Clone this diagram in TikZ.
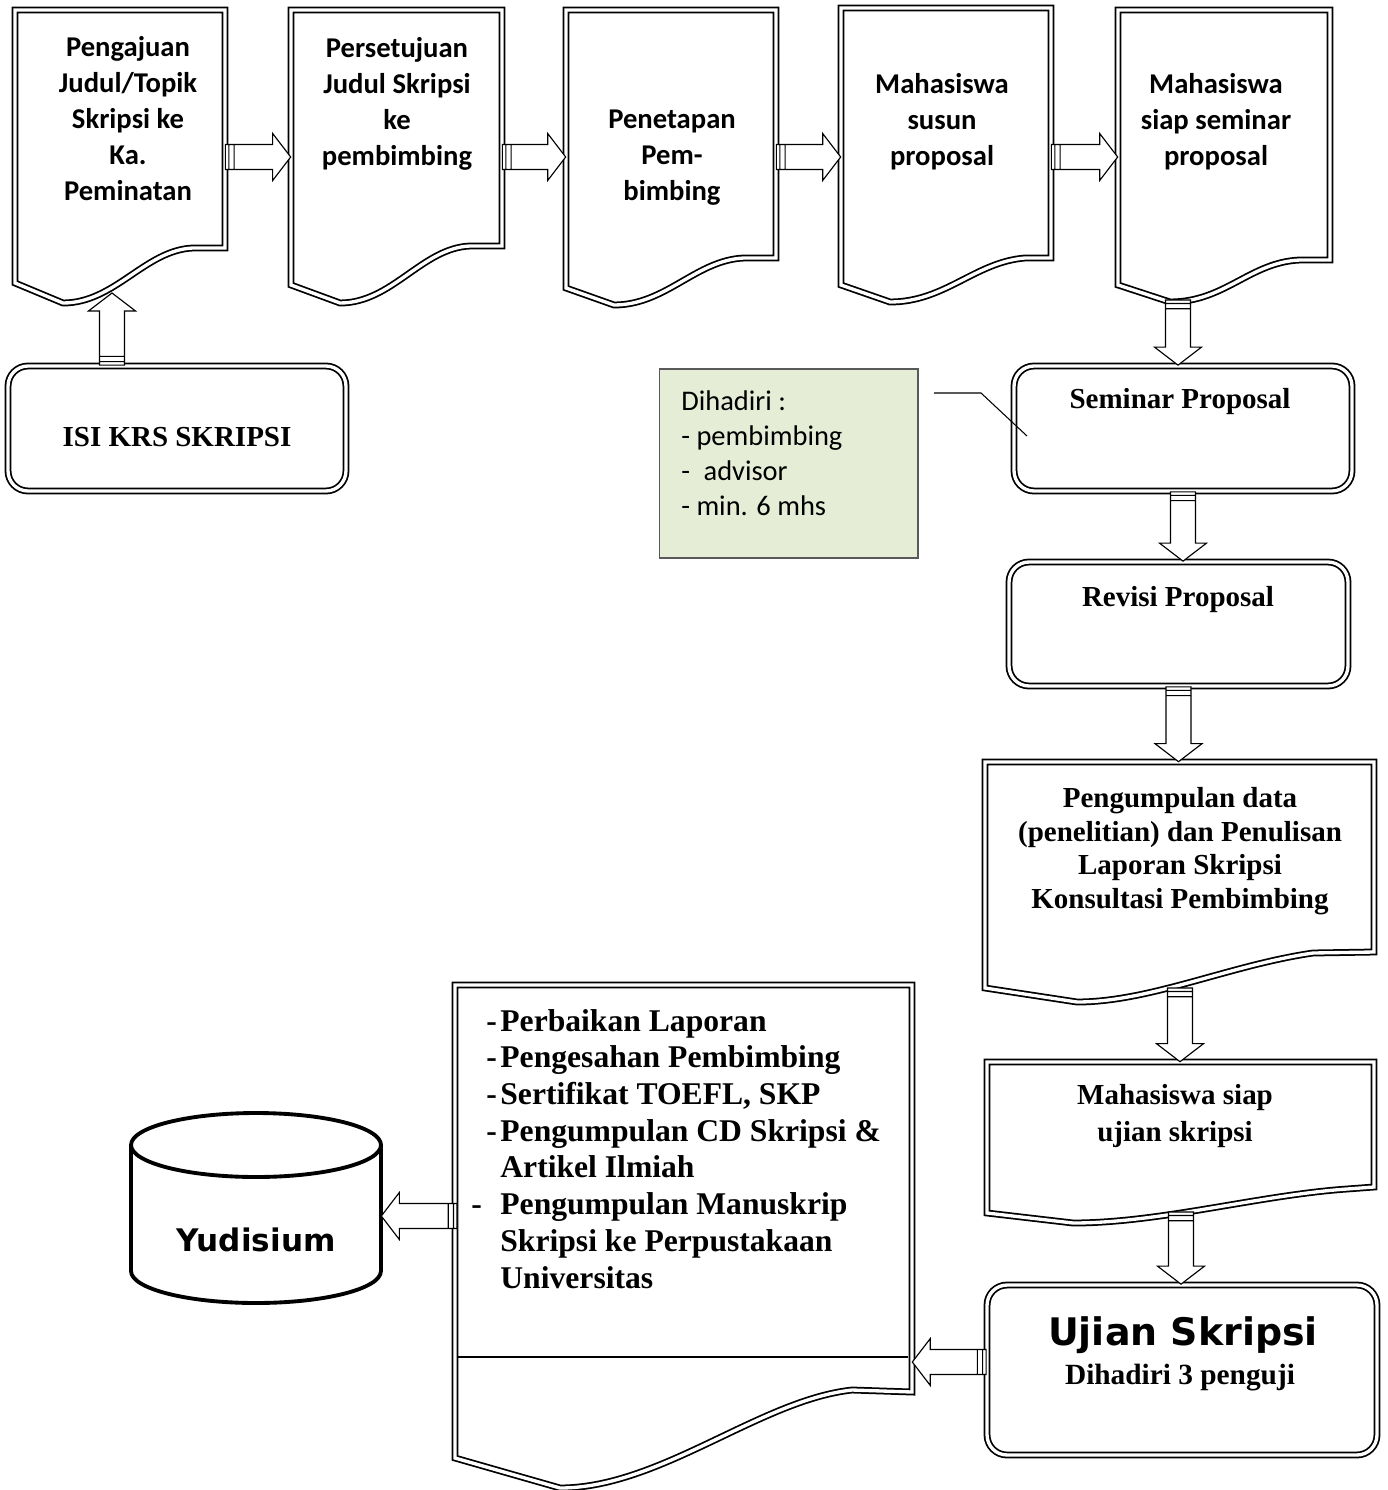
\documentclass[tikz,border=0pt]{standalone}
\usepackage{fontspec}
\newfontfamily\calib{Carlito}
\newfontfamily\tnr{Liberation Serif}
\newfontfamily\verd{DejaVu Sans}
\usetikzlibrary{calc}
\definecolor{greenbox}{HTML}{E6EDD7}

\tikzset{
  dbl/.style={draw, line width=1pt, double=white, double distance=1.9pt, line join=miter},
  rbox/.style={dbl, rounded corners=0.4cm, inner sep=0pt},
  frame/.style={inner sep=0pt},
  doctext/.style={font=\calib\bfseries\fontsize{16.3}{20.5}\selectfont, align=center, inner sep=0pt},
  tnrtext/.style={font=\tnr\bfseries\fontsize{16.5}{19.2}\selectfont, align=center, inner sep=0pt},
  blk/.style={draw, fill=white, line width=0.65pt, line join=miter,
    to path={
      ($(\tikztostart)!0.25cm!90:(\tikztotarget)$)
      -- ($(\tikztotarget)!0.36cm!(\tikztostart)!0.25cm!-90:(\tikztostart)$)
      -- ($(\tikztotarget)!0.36cm!(\tikztostart)!0.47cm!-90:(\tikztostart)$)
      -- (\tikztotarget)
      -- ($(\tikztotarget)!0.36cm!(\tikztostart)!0.47cm!90:(\tikztostart)$)
      -- ($(\tikztotarget)!0.36cm!(\tikztostart)!0.25cm!90:(\tikztostart)$)
      -- ($(\tikztostart)!0.25cm!-90:(\tikztotarget)$) -- cycle
      ($(\tikztostart)!2pt!(\tikztotarget)!0.25cm!90:(\tikztotarget)$)
      -- ($(\tikztostart)!2pt!(\tikztotarget)!0.25cm!-90:(\tikztotarget)$)
      ($(\tikztostart)!5pt!(\tikztotarget)!0.25cm!90:(\tikztotarget)$)
      -- ($(\tikztostart)!5pt!(\tikztotarget)!0.25cm!-90:(\tikztotarget)$)
    }},
  cyl/.style={draw, line width=2.2pt}
}

\begin{document}
\begin{tikzpicture}[x=0.02cm, y=0.02cm]
\useasboundingbox (0,0) rectangle (1387,-1490);

% documents, top row
\draw[dbl] (15,-10) -- (225,-10) -- (225,-248) -- (193,-248) .. controls (145,-250) and (115,-303) .. (63,-303) -- (15,-283) -- cycle;
\draw[dbl] (291,-10) -- (502,-10) -- (502,-246) -- (470,-246) .. controls (422,-248) and (392,-303) .. (340,-303) -- (291,-285) -- cycle;
\draw[dbl] (566,-10) -- (776,-10) -- (776,-258) -- (744,-258) .. controls (696,-260) and (666,-305) .. (614,-305) -- (566,-288) -- cycle;
\draw[dbl] (841,-8) -- (1051,-8) -- (1051,-258) -- (1025,-258) .. controls (975,-262) and (945,-302) .. (890,-302) -- (841,-285) -- cycle;
\draw[dbl] (1118,-10) -- (1330,-10) -- (1330,-260) -- (1300,-260) .. controls (1250,-262) and (1225,-302) .. (1170,-302) -- (1118,-285) -- cycle;

\node[frame, minimum width=4.2cm, minimum height=5.88cm] (d1) at (120,-157) {};
\node[frame, minimum width=4.22cm, minimum height=5.88cm] (d2) at (396.5,-157) {};
\node[frame, minimum width=4.2cm, minimum height=5.88cm] (d3) at (671,-157) {};
\node[frame, minimum width=4.2cm, minimum height=5.88cm] (d4) at (946,-157) {};
\node[frame, minimum width=4.24cm, minimum height=5.88cm] (d5) at (1224,-157) {};

\node[doctext] (t1) at (128,-119) {Pengajuan\\Judul/Topik\\Skripsi ke\\Ka.\\Peminatan};
\node[doctext] (t2) at (397,-104) {Persetujuan\\Judul Skripsi\\ke\\pembimbing};
\node[doctext] (t3) at (672,-158) {Penetapan\\Pem-\\bimbing};
\node[doctext] (t4) at (942,-122) {Mahasiswa\\susun\\proposal};
\node[doctext] (t5) at (1216,-122) {Mahasiswa\\siap seminar\\proposal};

\coordinate (d1b) at (112,-293);
\coordinate (d5b) at (1178,-300);

% rounded boxes
\node[rbox, minimum width=6.76cm, minimum height=2.5cm] (isi) at (177,-428.5) {};
\node[tnrtext] (tisi) at (177,-437) {ISI KRS SKRIPSI};
\node[rbox, minimum width=6.76cm, minimum height=2.5cm] (sem) at (1183,-428.5) {};
\node[tnrtext] (tsem) at (1180,-402) {Seminar Proposal};
\node[rbox, minimum width=6.78cm, minimum height=2.48cm] (rev) at (1178.5,-624) {};
\node[tnrtext] (trev) at (1178,-600) {Revisi Proposal};

% note
\node[draw=black!65, fill=greenbox, line width=0.6pt, minimum width=5.18cm, minimum height=3.78cm] (grn) at (788.5,-463.5) {};
\node[anchor=west, align=left, inner sep=0pt, font=\calib\fontsize{16.2}{19.9}\selectfont] (tgrn) at (681,-453)
  {Dihadiri :\\- pembimbing\\- \hspace{0.25em}advisor\\- min. 6 mhs};
\coordinate (cs) at (934,-393);
\coordinate (ce) at (1027,-436);
\draw[line width=0.6pt] (cs) -- ++(47,0) -- (ce);

% right column
\draw[dbl] (985,-762) -- (1374,-762) -- (1374,-952) -- (1313,-953) .. controls (1230,-965) and (1150,-1002) .. (1077,-1002) -- (985,-988) -- cycle;
\node[frame, minimum width=7.78cm, minimum height=3.8cm] (d6) at (1179.5,-857) {};
\node[tnrtext] (t6) at (1180,-851) {Pengumpulan data\\(penelitian) dan Penulisan\\Laporan Skripsi\\Konsultasi Pembimbing};
\coordinate (d6b) at (1180,-988);

\draw[dbl] (987,-1062) -- (1374,-1062) -- (1374,-1187) -- (1347,-1189) .. controls (1260,-1195) and (1160,-1223) .. (1073,-1223) -- (987,-1213) -- cycle;
\node[frame, minimum width=7.74cm, minimum height=2.5cm] (d7) at (1180.5,-1124.5) {};
\node[tnrtext, font=\tnr\bfseries\fontsize{16.5}{21}\selectfont] (t7) at (1175,-1116) {Mahasiswa siap\\ujian skripsi};
\coordinate (d7b) at (1181,-1212);

\node[rbox, minimum width=7.8cm, minimum height=3.4cm] (uj) at (1182,-1370) {};
\node[inner sep=0pt, font=\verd\bfseries\fontsize{21.6}{24}\selectfont] (tuj1) at (1183,-1335) {Ujian Skripsi};
\node[tnrtext, font=\tnr\bfseries\fontsize{16.7}{19}\selectfont] (tuj2) at (1180,-1378) {Dihadiri 3 penguji};

% final document
\draw[dbl] (455,-985) -- (912,-985) -- (912,-1392) -- (852,-1390) .. controls (760,-1400) and (660,-1488) .. (560,-1488) -- (455,-1458) -- cycle;
\draw[line width=0.6pt] (458,-1357) -- (908,-1357);
\node[frame, minimum width=9.14cm, minimum height=8.14cm] (d8) at (683.5,-1188.5) {};
\node[anchor=north west, inner sep=0pt, font=\tnr\bfseries\fontsize{18}{20.9}\selectfont] (t8) at (471,-1005) {%
  \begin{tabular}{@{}r@{\hspace{2pt}}l@{}}
  - & Perbaikan Laporan\\
  - & Pengesahan Pembimbing\\
  - & Sertifikat TOEFL, SKP\\
  - & Pengumpulan CD Skripsi \&\\
    & Artikel Ilmiah\\
  -\hspace{0.3cm} & Pengumpulan Manuskrip\\
    & Skripsi ke Perpustakaan\\
    & Universitas
  \end{tabular}};

% yudisium
\draw[cyl] (131,-1145) -- (131,-1271) arc[start angle=180, end angle=360, x radius=2.5cm, y radius=0.64cm] -- (381,-1145);
\draw[cyl] (256,-1145) ellipse [x radius=2.5cm, y radius=0.64cm];
\node[inner sep=0pt, minimum width=5cm, font=\verd\bfseries\fontsize{17.7}{20}\selectfont] (yud) at (256,-1240) {Yudisium};

% block arrows
\draw[blk] (d1.east) to (d2.west);
\draw[blk] (d2.east) to (d3.west);
\draw[blk] (d3.east) to (d4.west);
\draw[blk] (d4.east) to (d5.west);
\draw[blk] (isi.north -| d1b) to (d1b);
\draw[blk] (d5b) to (d5b |- sem.north);
\draw[blk] (sem.south) to (sem.south |- rev.north);
\draw[blk] (rev.south) to (rev.south |- d6.north);
\draw[blk] (d6b) to (d6b |- d7.north);
\draw[blk] (d7b) to (d7b |- uj.north);
\coordinate (ua) at ([yshift=0.16cm]uj.west);
\draw[blk] (ua) to (ua -| d8.east);
\coordinate (ya) at (457,-1216);
\draw[blk] (ya) to (ya -| yud.east);
\end{tikzpicture}
\end{document}
